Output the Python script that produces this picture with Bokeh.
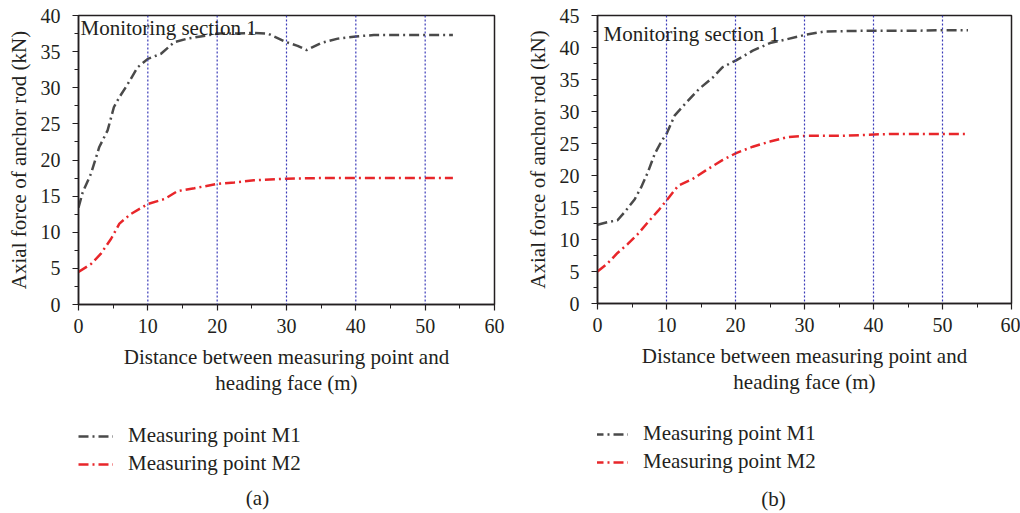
from bokeh.plotting import figure
from bokeh.models import Range1d, FixedTicker, Label, Legend, LegendItem, Span
from bokeh.layouts import row, column
from bokeh.embed import file_html
from bokeh.resources import INLINE

# ---------------- data ----------------
# Panel (a)
a_m1_x = [0, 0.6, 1.8, 3.0, 4.2, 5.1, 5.9, 7.1, 8.5, 10.0, 11.9, 13.8, 15.7, 17.6, 20.1, 22.5, 25.3, 27.3, 30.0, 31.6, 32.9, 35.0, 37.4, 40.0, 42.6, 46.5, 50.0, 54.0]
a_m1_y = [13.4, 15.5, 18.1, 21.8, 24.1, 27.3, 28.7, 30.5, 32.8, 34.0, 34.7, 36.3, 36.8, 37.1, 37.5, 37.5, 37.6, 37.5, 36.3, 35.8, 35.2, 36.2, 36.8, 37.1, 37.3, 37.3, 37.3, 37.3]
a_m2_x = [0, 1.8, 3.2, 4.7, 5.9, 7.5, 10.0, 12.4, 14.3, 16.7, 20.1, 22.5, 25.3, 30.0, 34.5, 40.0, 46.5, 54.0]
a_m2_y = [4.5, 5.6, 7.0, 9.1, 11.2, 12.5, 13.9, 14.6, 15.7, 16.1, 16.7, 16.9, 17.2, 17.4, 17.5, 17.5, 17.5, 17.5]

# Panel (b)
b_m1_x = [0, 1.4, 2.9, 4.1, 5.4, 6.3, 7.3, 8.3, 9.3, 10.0, 11.2, 12.7, 14.7, 16.7, 18.1, 20.1, 22.5, 25.0, 27.5, 30.2, 32.9, 37.8, 40.1, 45.1, 50.0, 53.7]
b_m1_y = [12.3, 12.7, 13.0, 14.5, 16.3, 18.1, 20.5, 23.4, 25.4, 26.5, 29.4, 31.2, 33.5, 35.3, 36.9, 38.0, 39.5, 40.7, 41.3, 42.0, 42.5, 42.6, 42.6, 42.6, 42.7, 42.7]
b_m2_x = [0, 1.4, 2.9, 4.4, 5.8, 7.3, 8.8, 10.0, 11.7, 13.7, 15.7, 18.1, 20.1, 22.5, 25.0, 27.5, 30.2, 35.3, 40.1, 42.7, 50.0, 53.7]
b_m2_y = [5.0, 6.2, 7.9, 9.3, 10.8, 12.7, 14.5, 16.1, 18.4, 19.4, 20.8, 22.4, 23.5, 24.5, 25.3, 26.0, 26.2, 26.2, 26.4, 26.5, 26.5, 26.5]

guide_x = [10, 20, 30, 40, 50]
x_ticks = [0, 10, 20, 30, 40, 50, 60]
a_y_ticks = [0, 5, 10, 15, 20, 25, 30, 35, 40]
b_y_ticks = [0, 5, 10, 15, 20, 25, 30, 35, 40, 45]

series_labels = ["Measuring point M1", "Measuring point M2"]
section_text = "Monitoring section 1"
x_label = "Distance between measuring point and\nheading face (m)"
y_label = "Axial force of anchor rod (kN)"

# ---------------- style ----------------
FONT = "Liberation Serif"
TXT = "#231f20"
C_M1 = "#4a4a4a"
C_M2 = "#e8262a"
C_GUIDE = "#3a3ab8"
DASH = "10 4 2 4"
TOP_H = 400
BOT_H = 113


def make_plot(m1x, m1y, m2x, m2y, ymax, yticks, width, bl, br, bb, sec_x, sec_dy):
    bt = 15
    frame_h = TOP_H - bt - bb
    p = figure(width=width, height=TOP_H, output_backend="svg", toolbar_location=None,
               x_range=Range1d(0, 60), y_range=Range1d(0, ymax),
               min_border_left=bl, min_border_right=br, min_border_top=bt, min_border_bottom=bb)
    p.xgrid.visible = False
    p.ygrid.visible = False
    p.outline_line_color = TXT
    p.outline_line_width = 1.5
    p.outline_line_alpha = 1

    minor_x = [v for v in range(5, 60, 10)]
    minor_y = [v + 2.5 for v in yticks[:-1]]
    p.xaxis.ticker = FixedTicker(ticks=x_ticks, minor_ticks=minor_x)
    p.yaxis.ticker = FixedTicker(ticks=yticks, minor_ticks=minor_y)
    for ax in (p.xaxis, p.yaxis):
        ax.axis_line_color = TXT
        ax.axis_line_width = 1.5
        ax.major_tick_line_color = TXT
        ax.minor_tick_line_color = TXT
        ax.major_tick_line_width = 1.2
        ax.minor_tick_line_width = 1.0
        ax.major_tick_in = 0
        ax.minor_tick_in = 0
        ax.major_tick_out = 6
        ax.minor_tick_out = 4
        ax.major_label_text_font = FONT
        ax.major_label_text_font_size = "20px"
        ax.major_label_text_color = TXT
        ax.axis_label_text_font = FONT
        ax.axis_label_text_font_size = "21px"
        ax.axis_label_text_font_style = "normal"
        ax.axis_label_text_color = TXT
    p.xaxis.major_label_standoff = 8
    p.yaxis.major_label_standoff = 12
    p.xaxis.axis_label = x_label
    p.yaxis.axis_label = y_label
    p.xaxis.axis_label_standoff = 9
    p.xaxis.axis_label_text_line_height = 1.1
    p.yaxis.axis_label_standoff = 7

    for gx in guide_x:
        p.add_layout(Span(location=gx, dimension="height", line_color=C_GUIDE,
                          line_width=1.2, line_dash="2 2"))

    p.line(m1x, m1y, line_color=C_M1, line_width=2.5, line_dash=DASH)
    p.line(m2x, m2y, line_color=C_M2, line_width=2.5, line_dash=DASH)

    p.add_layout(Label(x=sec_x, y=frame_h - sec_dy, x_units="screen", y_units="screen",
                       text=section_text, text_font=FONT, text_font_size="21px",
                       text_color=TXT, text_baseline="middle", text_align="left"))
    return p


def make_key(m1x, m1y, m2x, m2y, width, leg_x, leg_y, caption, cap_x, cap_y):
    k = figure(width=width, height=BOT_H, output_backend="svg", toolbar_location=None,
               x_axis_type=None, y_axis_type=None,
               min_border_left=0, min_border_right=0, min_border_top=0, min_border_bottom=0)
    k.xgrid.visible = False
    k.ygrid.visible = False
    k.outline_line_color = None
    # legend samples only (series drawn in the panel above)
    r1 = k.line(m1x, m1y, line_color=C_M1, line_width=2.5, line_dash=DASH, visible=False)
    r2 = k.line(m2x, m2y, line_color=C_M2, line_width=2.5, line_dash=DASH, visible=False)
    legend = Legend(items=[LegendItem(label=series_labels[0], renderers=[r1]),
                           LegendItem(label=series_labels[1], renderers=[r2])],
                    location=(leg_x, leg_y), orientation="vertical",
                    background_fill_alpha=0, border_line_alpha=0,
                    label_text_font=FONT, label_text_font_size="21px", label_text_color=TXT,
                    glyph_width=35, glyph_height=24, label_height=24, label_standoff=15,
                    padding=0, margin=0, spacing=3)
    k.add_layout(legend)
    k.add_layout(Label(x=cap_x, y=cap_y, x_units="screen", y_units="screen",
                       text=caption, text_font=FONT, text_font_size="21px",
                       text_color=TXT, text_baseline="middle", text_align="center"))
    return k


pa = make_plot(a_m1_x, a_m1_y, a_m2_x, a_m2_y, 40, a_y_ticks, 506, 78, 12, 96, 2, 12)
pb = make_plot(b_m1_x, b_m1_y, b_m2_x, b_m2_y, 45, b_y_ticks, 514, 91, 9, 97, 6, 18)
ka = make_key(a_m1_x, a_m1_y, a_m2_x, a_m2_y, 506, 0, 37, "(a)", 179, 16)
kb = make_key(b_m1_x, b_m1_y, b_m2_x, b_m2_y, 514, -4, 39, "(b)", 176, 15)

layout = row(column(pa, ka), column(pb, kb))
open("out.html", "w").write(file_html(layout, INLINE))
